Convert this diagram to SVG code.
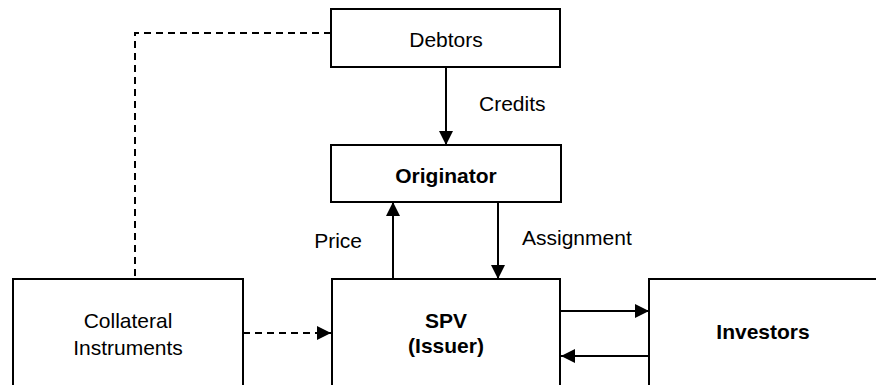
<svg xmlns="http://www.w3.org/2000/svg" width="876" height="385" viewBox="0 0 876 385">
  <style>
    .box { fill: #ffffff; stroke: #000000; stroke-width: 2; }
    .lbl { font-family: "Liberation Sans", Arial, sans-serif; font-size: 21px; fill: #000000; }
    .b { font-weight: bold; }
    .c { text-anchor: middle; }
    .line { fill: none; stroke: #000000; stroke-width: 2; }
    .dash { stroke-dasharray: 7 5; }
  </style>
  <defs>
    <marker id="arrow" viewBox="0 0 14 14" refX="14" refY="7" markerWidth="14" markerHeight="14" markerUnits="userSpaceOnUse" orient="auto">
      <path d="M0,0 L14,7 L0,14 Z" fill="#000000"/>
    </marker>
  </defs>
  <rect width="876" height="385" fill="#ffffff"/>

  <g id="connectors">
    <!-- Debtors to Collateral Instruments (dashed link) -->
    <path class="line dash" d="M331,33 H135 V279"/>
    <!-- Collateral Instruments to SPV -->
    <path class="line dash" d="M243,333 H331" marker-end="url(#arrow)"/>
    <!-- Debtors to Originator -->
    <path class="line" d="M446,67 V145" marker-end="url(#arrow)"/>
    <!-- SPV to Originator (price) -->
    <path class="line" d="M393,279 V202" marker-end="url(#arrow)"/>
    <!-- Originator to SPV (assignment) -->
    <path class="line" d="M498,202 V279" marker-end="url(#arrow)"/>
    <!-- SPV to Investors -->
    <path class="line" d="M560,311 H649" marker-end="url(#arrow)"/>
    <!-- Investors to SPV -->
    <path class="line" d="M649,356 H561" marker-end="url(#arrow)"/>
    <text class="lbl" x="479" y="111">Credits</text>
    <text class="lbl" x="362" y="248" text-anchor="end">Price</text>
    <text class="lbl" x="522" y="245">Assignment</text>
  </g>

  <g id="debtors">
    <rect class="box" x="331" y="9" width="229" height="58"/>
    <text class="lbl c" x="446" y="47">Debtors</text>
  </g>

  <g id="originator">
    <rect class="box" x="331" y="145" width="230" height="57"/>
    <text class="lbl b c" x="446" y="183">Originator</text>
  </g>

  <g id="collateral">
    <rect class="box" x="13" y="279" width="230" height="130"/>
    <text class="lbl c" x="128" y="328">Collateral</text>
    <text class="lbl c" x="128" y="355">Instruments</text>
  </g>

  <g id="spv">
    <rect class="box" x="332" y="279" width="228" height="130"/>
    <text class="lbl b c" x="446" y="328">SPV</text>
    <text class="lbl b c" x="446" y="353">(Issuer)</text>
  </g>

  <g id="investors">
    <rect class="box" x="649" y="279" width="240" height="130"/>
    <text class="lbl b c" x="763" y="339">Investors</text>
  </g>
</svg>
